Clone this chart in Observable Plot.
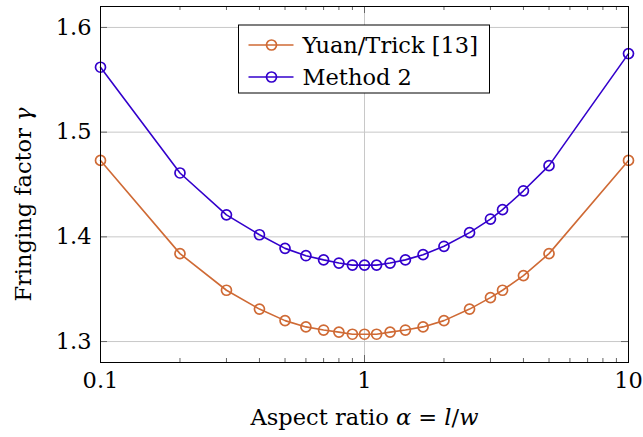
<!DOCTYPE html>
<html><head><meta charset="utf-8">
<script src="https://cdn.jsdelivr.net/npm/d3@7"></script>
<script src="https://cdn.jsdelivr.net/npm/@observablehq/plot@0.6"></script>
<style>body{margin:0;background:#fff;} #chart svg{display:block;}</style>
</head><body><div id="chart"></div>
<script>
// ---- data ----
const alpha = [0.1, 0.2, 0.3, 0.4, 0.5, 0.6, 0.7, 0.8, 0.9, 1, 1/0.9, 1/0.8, 1/0.7, 1/0.6, 2, 2.5, 3, 1/0.3, 4, 5, 10];
const yuanTrick = [1.473, 1.384, 1.349, 1.331, 1.320, 1.314, 1.311, 1.309, 1.307, 1.307, 1.307, 1.309, 1.311, 1.314, 1.320, 1.331, 1.342, 1.349, 1.363, 1.384, 1.473];
const method2 = [1.562, 1.461, 1.421, 1.402, 1.389, 1.382, 1.378, 1.375, 1.373, 1.373, 1.373, 1.375, 1.378, 1.383, 1.391, 1.404, 1.417, 1.426, 1.444, 1.468, 1.575];
const seriesNames = ["Yuan/Trick [13]", "Method 2"];
const seriesColors = ["#cf6a35", "#3300cc"];
const xMajorTicks = [0.1, 1, 10];
const xMajorLabels = ["0.1", "1", "10"];
const xMinorTicks = [0.2, 0.3, 0.4, 0.5, 0.6, 0.7, 0.8, 0.9, 2, 3, 4, 5, 6, 7, 8, 9];
const yTicks = [1.3, 1.4, 1.5, 1.6];
const yTickLabels = ["1.3", "1.4", "1.5", "1.6"];
const xLabel = "Aspect ratio α = l/w";
const yLabel = "Fringing factor γ";

// ---- layout ----
const W = 643, H = 437;
const mL = 100, mR = 15, mT = 6, mB = 75;
const plotW = W - mL - mR, plotH = H - mT - mB;
const FONT = "DejaVu Serif";
const FS = 22.5;

const rows = [];
alpha.forEach((a, i) => {
  rows.push({alpha: a, gamma: yuanTrick[i], series: seriesNames[0]});
  rows.push({alpha: a, gamma: method2[i], series: seriesNames[1]});
});

const svg = Plot.plot({
  width: W, height: H,
  marginLeft: mL, marginRight: mR, marginTop: mT, marginBottom: mB,
  style: {fontFamily: FONT, fontSize: FS + "px", color: "#000", background: "#fff"},
  x: {type: "log", domain: [0.1, 10]},
  y: {domain: [1.28, 1.62]},
  color: {domain: seriesNames, range: seriesColors},
  marks: [
    Plot.gridY(yTicks, {stroke: "#c8c8c8", strokeOpacity: 1, strokeWidth: 1}),
    Plot.gridX(xMajorTicks, {stroke: "#c8c8c8", strokeOpacity: 1, strokeWidth: 1}),
    // inward ticks
    Plot.tickX(xMajorTicks, {x: d => d, insetTop: plotH - 7, stroke: "#666"}),
    Plot.tickX(xMajorTicks, {x: d => d, insetBottom: plotH - 7, stroke: "#666"}),
    Plot.tickX(xMinorTicks, {x: d => d, insetTop: plotH - 4, stroke: "#666"}),
    Plot.tickX(xMinorTicks, {x: d => d, insetBottom: plotH - 4, stroke: "#666"}),
    Plot.tickY(yTicks, {y: d => d, insetRight: plotW - 7, stroke: "#666"}),
    Plot.tickY(yTicks, {y: d => d, insetLeft: plotW - 7, stroke: "#666"}),
    Plot.line(rows, {x: "alpha", y: "gamma", z: "series", stroke: "series", strokeWidth: 1.6}),
    Plot.dot(rows, {x: "alpha", y: "gamma", stroke: "series", fill: "none", r: 5, strokeWidth: 1.7}),
    Plot.frame({stroke: "#000", strokeWidth: 1}),
    Plot.axisX(xMajorTicks, {tickSize: 0, tickPadding: 10, label: null,
      tickFormat: d => xMajorLabels[xMajorTicks.indexOf(d)], fontSize: FS}),
    Plot.axisY(yTicks, {tickSize: 0, tickPadding: 9, label: null,
      tickFormat: d => yTickLabels[yTicks.indexOf(d)], fontSize: FS}),
    Plot.text([xLabel], {frameAnchor: "bottom", dy: 55, lineAnchor: "middle", textAnchor: "middle", fontSize: FS, fill: "#000"}),
    Plot.text([yLabel], {frameAnchor: "left", rotate: -90, dx: -77, dy: 20, lineAnchor: "middle", textAnchor: "middle", fontSize: FS, fill: "#000"})
  ]
});

document.getElementById("chart").appendChild(svg);

// italic math parts in axis labels
function richText(content, parts) {
  d3.select(svg).selectAll("text").filter(function () { return this.textContent === content; })
    .each(function () {
      const t = d3.select(this);
      t.text(null);
      parts.forEach(([s, it]) => {
        const ts = t.append("tspan").text(s);
        if (it) ts.attr("font-style", "italic");
      });
    });
}
richText(xLabel, [["Aspect ratio ", false], ["α", true], [" = ", false], ["l", true], ["/", false], ["w", true]]);
richText(yLabel, [["Fringing factor ", false], ["γ", true]]);

// legend (north, centered on x = 1)
const xs = svg.scale("x");
const cx = xs.apply(1);
const boxW = 251, boxH = 68, boxTop = 25;
const left = cx - boxW / 2;
const lg = d3.select(svg).append("g").attr("font-family", FONT).attr("font-size", FS).attr("text-anchor", "start");
lg.append("rect").attr("x", left).attr("y", boxTop).attr("width", boxW).attr("height", boxH)
  .attr("fill", "#fff").attr("stroke", "#000").attr("stroke-width", 1);
seriesNames.forEach((name, i) => {
  const yy = boxTop + 20 + i * 32;
  lg.append("line").attr("x1", left + 10).attr("x2", left + 55).attr("y1", yy).attr("y2", yy)
    .attr("stroke", seriesColors[i]).attr("stroke-width", 1.6);
  lg.append("circle").attr("cx", left + 33).attr("cy", yy).attr("r", 5)
    .attr("fill", "none").attr("stroke", seriesColors[i]).attr("stroke-width", 1.7);
  lg.append("text").attr("x", left + 64).attr("y", yy).attr("dy", "0.35em")
    .attr("text-anchor", "start").attr("fill", "#000").text(name);
});
</script>
</body></html>
